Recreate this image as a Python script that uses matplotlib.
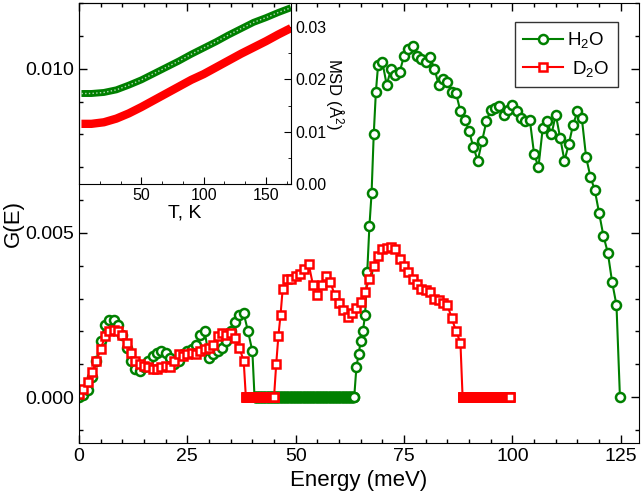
import numpy as np
import matplotlib
matplotlib.use("Agg")
import matplotlib.pyplot as plt
from matplotlib.ticker import MultipleLocator, AutoMinorLocator, FormatStrFormatter

plt.rcParams['font.family'] = ['Liberation Sans', 'DejaVu Sans']
plt.rcParams['mathtext.fontset'] = 'custom'
plt.rcParams['mathtext.rm'] = 'Liberation Sans'
plt.rcParams['mathtext.it'] = 'Liberation Sans:italic'

# ---- G(E) data, values in units of 1e-3 ----
h2o_e_low = list(range(0, 41))
h2o_g_low = [0.0, 0.05, 0.2, 0.6, 1.1, 1.7, 2.2, 2.35, 2.35, 2.2, 1.9, 1.5, 1.1, 0.85,
             0.8, 0.9, 1.1, 1.25, 1.35, 1.4, 1.35, 1.2, 1.0, 1.1, 1.3, 1.4, 1.45, 1.6,
             1.9, 2.0, 1.2, 1.3, 1.4, 1.5, 1.7, 2.0, 2.3, 2.5, 2.55, 2.0, 1.4]
h2o_zero = (40.5, 63.5)
h2o_e_high = [64, 64.5, 65, 65.5, 66, 66.5, 67, 67.5, 68, 68.5, 69] + list(range(70, 125)) + [124.8]
h2o_g_high = [0.9, 1.3, 1.7, 2.0, 2.5, 3.8, 5.2, 6.2, 8.0, 9.3, 10.1,
              10.2, 9.5, 10.0, 9.8, 9.9, 10.4, 10.6, 10.7, 10.4, 10.3, 10.2, 10.35, 10.0,
              9.5, 9.7, 9.6, 9.3, 9.25, 8.7, 8.45, 8.1, 7.6, 7.2, 7.8, 8.4, 8.75, 8.8,
              8.85, 8.6, 8.75, 8.9, 8.7, 8.5, 8.4, 8.45, 7.4, 7.0, 8.2, 8.4, 8.0, 8.6,
              7.9, 7.2, 7.7, 8.3, 8.7, 8.5, 7.3, 6.7, 6.3, 5.6, 4.9, 4.4, 3.5, 2.8, 0.0]

d2o_e_low = list(range(0, 39))
d2o_g_low = [0.1, 0.25, 0.45, 0.75, 1.1, 1.45, 1.85, 2.0, 2.05, 2.0, 1.9, 1.65, 1.35,
             1.1, 1.0, 0.95, 0.9, 0.85, 0.85, 0.9, 0.95, 0.9, 1.1, 1.3, 1.25, 1.3, 1.35,
             1.3, 1.4, 1.45, 1.5, 1.6, 1.85, 1.95, 1.9, 1.95, 1.8, 1.5, 1.1]
d2o_zero1 = (38.5, 45.0)
d2o_e_mid = [45.5, 46, 46.5, 47] + list(range(48, 89))
d2o_g_mid = [1.0, 1.85, 2.5, 3.3,
             3.6, 3.6, 3.7, 3.75, 3.9, 4.05, 3.4, 3.1, 3.4, 3.7, 3.5, 3.1, 2.85, 2.65,
             2.45, 2.55, 2.7, 2.9, 3.2, 3.6, 4.0, 4.3, 4.5, 4.55, 4.58, 4.5, 4.2, 4.0,
             3.8, 3.6, 3.45, 3.3, 3.25, 3.2, 3.0, 2.95, 2.85, 2.8, 2.4, 2.0, 1.66]
d2o_zero2 = (88.5, 99.5)

# ---- inset MSD data ----
msd_t = [2, 10, 20, 30, 40, 50, 60, 70, 80, 90, 100, 110, 120, 130, 140, 150, 160, 170]
msd_h2o = [0.0173, 0.0173, 0.0175, 0.0180, 0.0189, 0.0199, 0.0211, 0.0223, 0.0235,
           0.0248, 0.0260, 0.0272, 0.0285, 0.0297, 0.0309, 0.0318, 0.0328, 0.0337]
msd_d2o = [0.0115, 0.0115, 0.0118, 0.0125, 0.0135, 0.0147, 0.0160, 0.0173, 0.0186,
           0.0199, 0.0210, 0.0223, 0.0236, 0.0249, 0.0261, 0.0273, 0.0286, 0.0298]


def zeros(rng):
    # flat zero stretch, sampled densely like the measured grid
    e = np.arange(rng[0], rng[1] + 0.01, 0.1)
    return list(e), [0.0] * len(e)


ze, zg = zeros(h2o_zero)
h2o_e = np.array(h2o_e_low + ze + h2o_e_high)
h2o_g = np.array(h2o_g_low + zg + h2o_g_high) * 1e-3

z1e, z1g = zeros(d2o_zero1)
z2e, z2g = zeros(d2o_zero2)
d2o_e = np.array(d2o_e_low + z1e + d2o_e_mid + z2e)
d2o_g = np.array(d2o_g_low + z1g + d2o_g_mid + z2g) * 1e-3

green = '#008000'
red = '#ff0000'

fig = plt.figure(figsize=(6.41, 4.93), dpi=100)
ax = fig.add_axes([0.1232, 0.1014, 0.8737, 0.8925])
ins = fig.add_axes([0.1232, 0.6268, 0.3307, 0.3671])
ax.set_zorder(2)
ax.patch.set_visible(False)
ins.set_zorder(1)

ax.plot(h2o_e, h2o_g, '-o', color=green, lw=1.5, ms=6.5, mew=1.8,
        mfc='white', mec=green, label='H$_2$O')
ax.plot(d2o_e, d2o_g, '-s', color=red, lw=1.5, ms=5.2, mew=1.8,
        mfc='white', mec=red, label=' D$_2$O')

ax.set_xlim(0, 129.2)
ax.set_ylim(-0.0014, 0.0120)
ax.xaxis.set_major_locator(MultipleLocator(25))
ax.xaxis.set_minor_locator(MultipleLocator(5))
ax.yaxis.set_major_locator(MultipleLocator(0.005))
ax.yaxis.set_minor_locator(MultipleLocator(0.001))
ax.yaxis.set_major_formatter(FormatStrFormatter('%.3f'))
ax.tick_params(which='both', direction='in', top=True, right=True, labelsize=14)
ax.tick_params(which='major', length=6, width=1)
ax.tick_params(which='minor', length=3, width=1)
ax.set_xlabel('Energy (meV)', fontsize=16, labelpad=4)
ax.set_ylabel('G(E)', fontsize=16, labelpad=1)

leg = ax.legend(loc='upper right', bbox_to_anchor=(0.9625, 0.957), borderaxespad=0,
                fontsize=13.5, numpoints=1, handlelength=2.1, handletextpad=0.25,
                fancybox=False, framealpha=1, edgecolor='#333333',
                borderpad=0.45, labelspacing=0.45)
leg.get_frame().set_linewidth(1)

# inset
ins.plot(msd_t, msd_h2o, '-', color=green, lw=5, solid_capstyle='butt')
ins.plot(msd_t, msd_h2o, ':', color='#b8dab8', lw=1)
ins.plot(msd_t, msd_d2o, '-', color=red, lw=6, solid_capstyle='butt')
ins.set_xlim(0, 170)
ins.set_ylim(0, 0.0346)
ins.set_xticks([50, 100, 150])
ins.xaxis.set_minor_locator(MultipleLocator(50 / 3))
ins.yaxis.set_major_locator(MultipleLocator(0.01))
ins.yaxis.set_minor_locator(AutoMinorLocator(2))
ins.yaxis.set_major_formatter(FormatStrFormatter('%.2f'))
ins.yaxis.tick_right()
ins.yaxis.set_label_position('right')
ins.tick_params(which='both', direction='in', left=False, top=False, labelsize=11.5, pad=3)
ins.tick_params(which='major', length=5)
ins.tick_params(which='minor', length=2.5)
ins.set_xlabel('T, K', fontsize=14, labelpad=1)
ins.set_ylabel('MSD (Å$^2$)', fontsize=12, rotation=270, labelpad=14)

fig.savefig('out.png', dpi=100)
